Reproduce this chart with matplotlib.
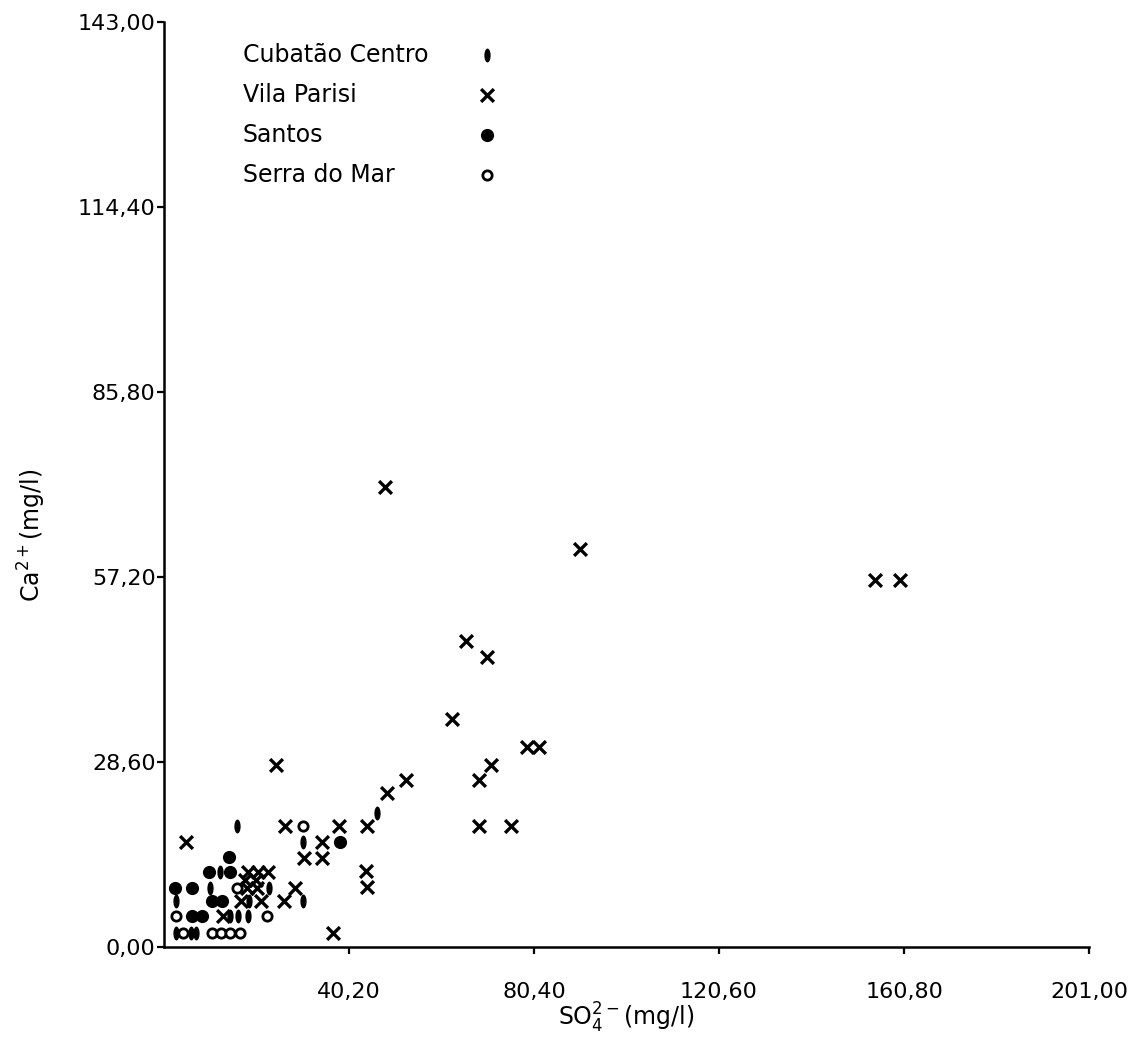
import numpy as np
import matplotlib
matplotlib.use("Agg")
import matplotlib.pyplot as plt

plt.rcParams['font.family'] = ['DejaVu Sans']
plt.rcParams['mathtext.default'] = 'regular'

# ---- data (SO4 mg/l, Ca mg/l) ----
cubatao_x = [2.6, 5.9, 7.0, 14.3, 16.1, 18.3, 2.6, 18.5, 30.2, 10.0, 22.8, 12.2, 30.2, 15.9, 46.3]
cubatao_y = [2.2, 2.2, 2.2, 4.8, 4.8, 4.8, 7.1, 7.1, 7.1, 9.1, 9.1, 11.6, 16.2, 18.7, 20.7]

parisi_x = [36.7, 12.8, 16.7, 21.1, 26.1, 18.0, 20.2, 28.5, 17.6, 20.0, 18.3, 20.4, 22.6,
            44.1, 43.9, 30.4, 34.3, 4.8, 34.3, 26.3, 38.0, 44.1, 68.4, 75.4,
            48.5, 52.6, 68.4, 24.3, 71.1, 78.9, 81.5, 62.6, 70.2, 65.6,
            154.5, 159.9, 90.4, 48.0]
parisi_y = [2.2, 4.8, 7.1, 7.1, 7.1, 9.1, 9.1, 9.1, 10.4, 10.4, 11.6, 11.6, 11.6,
            9.3, 11.8, 13.8, 13.8, 16.2, 16.2, 18.7, 18.7, 18.7, 18.7, 18.7,
            23.8, 25.8, 25.8, 28.1, 28.1, 30.9, 30.9, 35.2, 44.8, 47.3,
            56.7, 56.7, 61.5, 71.1]

santos_x = [6.1, 8.3, 10.4, 12.6, 2.4, 6.1, 9.8, 14.3, 14.1, 38.2]
santos_y = [4.8, 4.8, 7.1, 7.1, 9.1, 9.1, 11.6, 11.6, 13.9, 16.2]

serra_x = [4.1, 10.4, 12.4, 14.3, 16.5, 2.6, 22.4, 15.9, 30.2]
serra_y = [2.2, 2.2, 2.2, 2.2, 2.2, 4.8, 4.8, 9.1, 18.7]

x_ticks = [40.2, 80.4, 120.6, 160.8, 201.0]
x_ticklabels = ["40,20", "80,40", "120,60", "160,80", "201,00"]
y_ticks = [0.0, 28.6, 57.2, 85.8, 114.4, 143.0]
y_ticklabels = ["0,00", "28,60", "57,20", "85,80", "114,40", "143,00"]

labels = ["Cubatão Centro", "Vila Parisi", "Santos", "Serra do Mar"]

# ---- figure ----
fig = plt.figure(figsize=(11.33, 10.51), dpi=100)
W, H = 1133, 1051
x0, x1, y0, y1 = 164, 1089, 947, 22
ax = fig.add_axes([x0 / W, 1 - y0 / H, (x1 - x0) / W, (y0 - y1) / H])

# narrow vertical ellipse marker for Cubatão
t = np.linspace(0, 2 * np.pi, 41)
ell = np.column_stack([0.45 * np.cos(t), np.sin(t)])

styles = [
    dict(marker=ell, s=100, c='black', linewidths=0),
    dict(marker='x', s=85, c='black', linewidths=2.4),
    dict(marker='o', s=90, c='black', linewidths=0),
    dict(marker='o', s=45, facecolors='white', edgecolors='black', linewidths=2.0),
]
series = [(cubatao_x, cubatao_y), (parisi_x, parisi_y),
          (santos_x, santos_y), (serra_x, serra_y)]

for (xs, ys), st in zip(series, styles):
    ax.scatter(xs, ys, zorder=3, **st)

# legend (text left, symbol right, as in the original)
leg_rows = [0.9643, 0.9211, 0.8778, 0.8346]
for lab, yy, st in zip(labels, leg_rows, styles):
    ax.text(0.0854, yy, lab, transform=ax.transAxes, fontsize=17, va='center', ha='left')
    ax.scatter([0.349], [yy], transform=ax.transAxes, clip_on=False, zorder=3, **st)

ax.set_xlim(0, 201)
ax.set_ylim(0, 143)
ax.set_xticks(x_ticks)
ax.set_xticklabels(x_ticklabels)
ax.set_yticks(y_ticks)
ax.set_yticklabels(y_ticklabels)

for s in ['top', 'right']:
    ax.spines[s].set_visible(False)
for s in ['left', 'bottom']:
    ax.spines[s].set_linewidth(1.8)

ax.tick_params(axis='x', direction='out', length=5, width=1.6, pad=20, labelsize=16)
ax.tick_params(axis='y', direction='out', length=5, width=1.6, pad=1, labelsize=16)

ax.set_xlabel("SO$_4^{2-}$(mg/l)", fontsize=17)
ax.set_ylabel("Ca$^{2+}$(mg/l)", fontsize=17)
ax.xaxis.set_label_coords(0.5, -0.058)
ax.yaxis.set_label_coords(-0.125, 0.445)

fig.savefig("out.png", dpi=100)
